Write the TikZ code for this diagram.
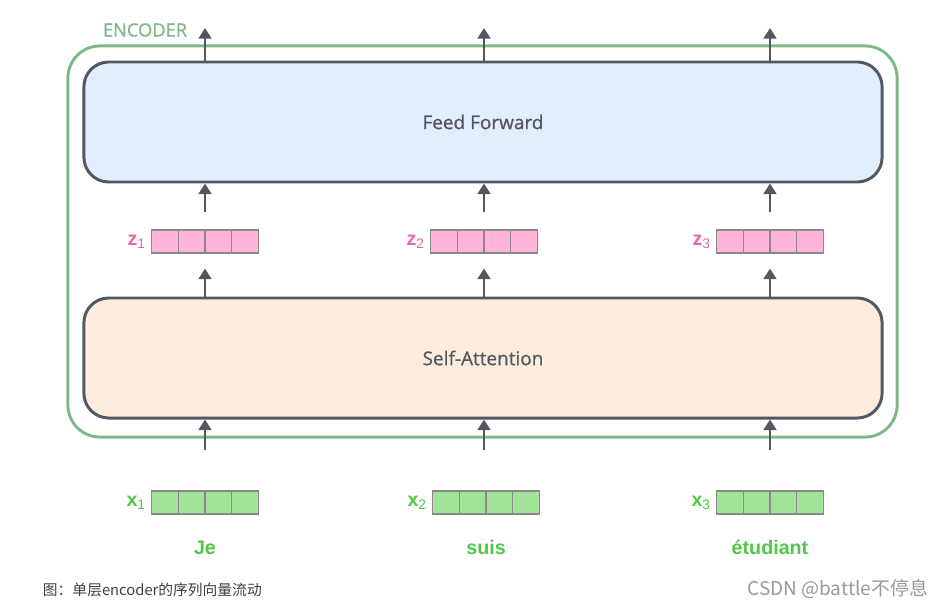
\documentclass[tikz,border=0pt]{standalone}
\usepackage{fontspec}
\setmainfont{Open Sans}
\newfontfamily\semifont[FakeBold=0.8]{Open Sans}
\newfontfamily\arialfont{Liberation Sans}
\newfontfamily\cjkfont{Noto Sans CJK SC}
\usepackage{xcolor}
\usetikzlibrary{arrows.meta,positioning,calc}

\definecolor{encgreen}{RGB}{128,184,138}
\definecolor{boxgray}{RGB}{82,87,98}
\definecolor{fffill}{RGB}{226,238,253}
\definecolor{safill}{RGB}{253,236,221}
\definecolor{zfill}{RGB}{255,180,216}
\definecolor{zpink}{RGB}{238,98,168}
\definecolor{xfill}{RGB}{162,228,154}
\definecolor{xgreen}{RGB}{78,200,70}
\definecolor{cellgray}{RGB}{140,135,140}

\begin{document}
\begin{tikzpicture}[x=0.025cm,y=-0.025cm,
    bigbox/.style={draw=boxgray,line width=2.1pt,rounded corners=0.62cm,minimum width=19.95cm,minimum height=3cm,text=boxgray,font=\semifont\fontsize{13.5}{16}\selectfont},
    vec/.style={draw=cellgray,line width=0.8pt,minimum width=2.675cm,minimum height=0.575cm,inner sep=0pt,
      path picture={\foreach \k in {1,2,3}
        \draw[cellgray,line width=0.8pt] ($(path picture bounding box.south west)!\k/4!(path picture bounding box.south east)$) -- ($(path picture bounding box.north west)!\k/4!(path picture bounding box.north east)$);}},
    veclab/.style={inner sep=0pt,font=\arialfont\fontsize{14}{16}\selectfont},
    word/.style={inner sep=0pt,text height=0.3cm,text depth=0.1cm,text=xgreen,font=\arialfont\bfseries\fontsize{14}{16}\selectfont},
    arr/.style={-{Triangle[width=9pt,length=7.5pt]},line width=2pt,draw=boxgray}]
    \useasboundingbox (0,0) rectangle (946,607);

    % Encoder frame
    \node[draw=encgreen,line width=2.1pt,rounded corners=0.8cm,minimum width=20.725cm,minimum height=9.775cm] (enc) at (482.5,241.5) {};
    \node[anchor=west,text=encgreen,font=\semifont\fontsize{13}{15}\selectfont] (enclabel) at (98,30) {ENCODER};

    % Sublayers
    \node[bigbox,fill=fffill] (ff) at (483,122) {Feed Forward};
    \node[bigbox,fill=safill] (sa) at (483,358) {Self-Attention};

    % Vectors z
    \node[vec,fill=zfill] (z1) at (205,241.5) {};
    \node[vec,fill=zfill] (z2) at (484,241.5) {};
    \node[vec,fill=zfill] (z3) at (770,241.5) {};
    \node[veclab,text=zpink,left=0.12cm of z1] (z1lab) {{\bfseries z}\textsubscript{1}};
    \node[veclab,text=zpink,left=0.12cm of z2] (z2lab) {{\bfseries z}\textsubscript{2}};
    \node[veclab,text=zpink,left=0.12cm of z3] (z3lab) {{\bfseries z}\textsubscript{3}};

    % Vectors x and words
    \node[vec,fill=xfill] (x1) at (205,502.5) {};
    \node[vec,fill=xfill] (x2) at (486,502.5) {};
    \node[vec,fill=xfill] (x3) at (770,502.5) {};
    \node[veclab,text=xgreen,left=0.12cm of x1] (x1lab) {{\bfseries x}\textsubscript{1}};
    \node[veclab,text=xgreen,left=0.12cm of x2] (x2lab) {{\bfseries x}\textsubscript{2}};
    \node[veclab,text=xgreen,left=0.12cm of x3] (x3lab) {{\bfseries x}\textsubscript{3}};
    \node[word,below=0.7cm of x1] (je) {Je};
    \node[word,below=0.7cm of x2] (suis) {suis};
    \node[word,below=0.7cm of x3] (etudiant) {étudiant};

    % Flow arrows
    \coordinate (out1) at (205,28);
    \coordinate (out2) at (484,28);
    \coordinate (out3) at (770,28);
    \coordinate (in1) at (205,450);
    \coordinate (in2) at (484,450);
    \coordinate (in3) at (770,450);
    \foreach \i in {1,2,3} {
        \draw[arr] (ff.north -| z\i) -- (out\i);
        \draw[arr] ($(z\i.north)+(0,-17)$) -- (ff.south -| z\i);
        \draw[arr] (sa.north -| z\i) -- ($(z\i.south)+(0,15)$);
        \draw[arr] (in\i) -- (sa.south -| z\i);
    }

    % Caption and mark
    \node[anchor=west,text=black!75,font=\cjkfont\fontsize{10.5}{13}\selectfont] (caption) at (38,590) {图：单层encoder的序列向量流动};
    \node[anchor=east,text=black!40,font=\cjkfont\fontsize{13.5}{15}\selectfont] (mark) at (933,589) {CSDN @battle不停息};
\end{tikzpicture}
\end{document}
